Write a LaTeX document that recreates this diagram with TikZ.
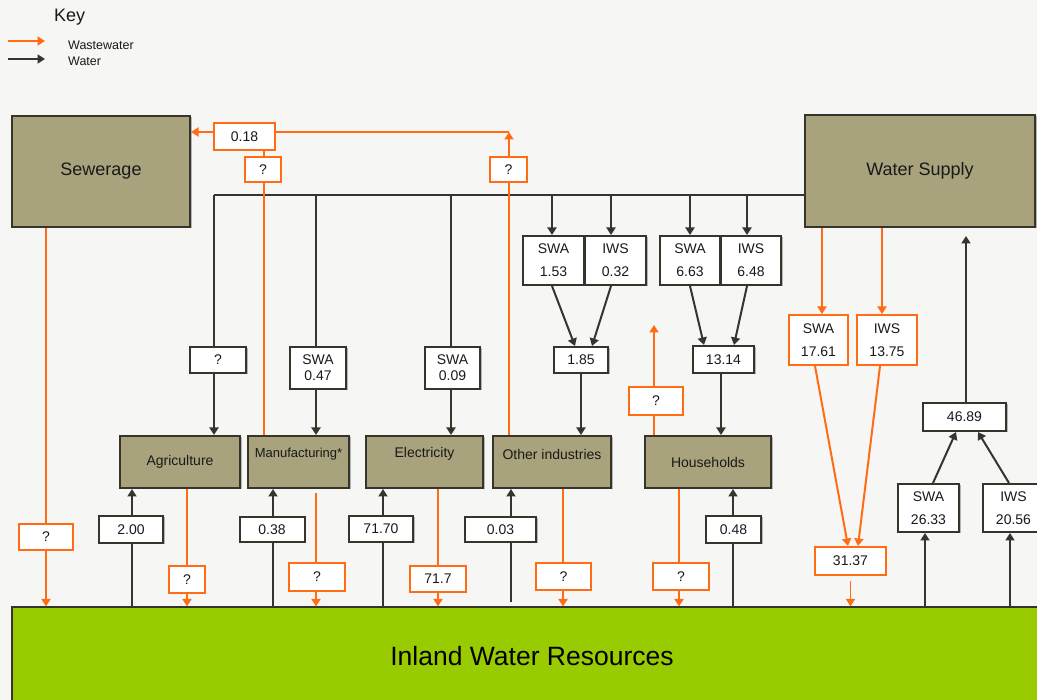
\documentclass[tikz,border=0pt]{standalone}
\usepackage{fontspec}
\setmainfont{Liberation Sans}
\usetikzlibrary{arrows.meta,calc,shadows}
\definecolor{secfill}{RGB}{168,163,124}
\definecolor{edgec}{RGB}{55,52,44}
\definecolor{wwc}{RGB}{255,108,20}
\definecolor{grn}{RGB}{153,204,0}
\definecolor{bgc}{RGB}{246,246,244}
\definecolor{txtc}{RGB}{25,25,25}
\tikzset{
  wline/.style={draw=edgec, line width=2pt},
  oline/.style={draw=wwc, line width=2pt},
  arr/.style={-{Triangle[width=9pt,length=7.5pt]}},
  shd/.style={drop shadow={shadow xshift=1.5pt, shadow yshift=-1.5pt, opacity=0.45, fill=black!60}},
  sect/.style={draw=edgec, fill=secfill, line width=2pt, inner sep=0pt, text=txtc, font=\fontsize{14}{16}\selectfont, shd},
  big/.style={sect, font=\fontsize{18}{20}\selectfont},
  sectxt/.style={inner sep=0pt, text=txtc, font=\fontsize{14}{16}\selectfont},
  wbox/.style={draw=edgec, fill=white, line width=2pt, inner sep=0pt, align=center, text=txtc, font=\fontsize{14}{16}\selectfont, shd},
  wbox2/.style={wbox, font=\fontsize{14}{23}\selectfont},
  obox/.style={draw=wwc, fill=white, line width=2pt, inner sep=0pt, align=center, text=txtc, font=\fontsize{14}{16}\selectfont},
  obox2/.style={obox, font=\fontsize{14}{23}\selectfont},
}
\begin{document}
\begin{tikzpicture}[x=1pt,y=-1pt]
\useasboundingbox (0,0) rectangle (1037,700);
\fill[bgc] (0,0) rectangle (1037,700);

% ---- line positions
\coordinate (yd) at (0,195);
\coordinate (yt) at (0,132);
\coordinate (xs) at (46,0);
\coordinate (xa1) at (214,0);
\coordinate (xa2) at (187,0);
\coordinate (xa3) at (132,0);
\coordinate (xm1) at (316,0);
\coordinate (xm3) at (264,0);
\coordinate (xm4) at (273,0);
\coordinate (xe1) at (451,0);
\coordinate (xe2) at (438,0);
\coordinate (xe3) at (383,0);
\coordinate (xo1) at (581,0);
\coordinate (xo2) at (563,0);
\coordinate (xo3) at (509,0);
\coordinate (xo4) at (511,0);
\coordinate (xh1) at (721,0);
\coordinate (xh2) at (679,0);
\coordinate (xh3) at (654,0);
\coordinate (xh4) at (733,0);
\coordinate (xd1) at (552,0);
\coordinate (xd2) at (611,0);
\coordinate (xd3) at (690,0);
\coordinate (xd4) at (747,0);
\coordinate (xr1) at (925,0);
\coordinate (xr2) at (1010,0);
\coordinate (xr3) at (966,0);
\coordinate (xw1) at (822,0);
\coordinate (xw2) at (882,0);
\coordinate (hup) at (654,325);
\coordinate (wsup) at (966,236);

% ---- key
\node[anchor=west, inner sep=0pt, text=txtc, font=\fontsize{18}{20}\selectfont] (key) at (54,17) {Key};
\coordinate (k1a) at (8,41);
\coordinate (k1b) at (45,41);
\coordinate (k2a) at (8,59);
\coordinate (k2b) at (45,59);
\draw[oline, line width=1.8pt, arr] (k1a) -- (k1b);
\draw[wline, line width=1.8pt, arr] (k2a) -- (k2b);
\node[anchor=west, inner sep=0pt, text=txtc, font=\fontsize{12.5}{15}\selectfont] (kww) at (68,45) {Wastewater};
\node[anchor=west, inner sep=0pt, text=txtc, font=\fontsize{12.5}{15}\selectfont] (kw) at (68,61) {Water};

% ---- main boxes
\node[big, minimum width=178pt, minimum height=111pt] (sew) at (101,171.5) {Sewerage};
\node[big, minimum width=230pt, minimum height=112pt] (ws) at (920,171) {Water Supply};
\node[sect, minimum width=120pt, minimum height=52pt] (agr) at (180,462) {Agriculture};
\node[sect, minimum width=101pt, minimum height=52pt] (man) at (298.5,462) {};
\node[sectxt, font=\fontsize{13}{16}\selectfont] (mant) at (298.5,454) {Manufacturing*};
\node[sect, minimum width=117pt, minimum height=52pt] (ele) at (424.5,462) {};
\node[sectxt] (elet) at (424.5,454) {Electricity};
\node[sect, minimum width=118pt, minimum height=52pt] (oth) at (552,462) {};
\node[sectxt] (otht) at (552,454) {Other industries};
\node[sect, minimum width=126pt, minimum height=52pt] (hh) at (708,462) {Households};
\node[draw=edgec, fill=grn, line width=1.2pt, minimum width=1040pt, minimum height=98pt, inner sep=0pt, text=black, font=\fontsize{26.5}{30}\selectfont] (inl) at (532,656) {Inland Water Resources};

% ---- water label boxes
\node[wbox, minimum width=56pt, minimum height=26pt] (qa) at (218,360) {?};
\node[wbox, minimum width=56pt, minimum height=42pt] (s047) at (318,368) {SWA\\0.47};
\node[wbox, minimum width=55pt, minimum height=42pt] (s009) at (452.5,368) {SWA\\0.09};
\node[wbox2, minimum width=61pt, minimum height=49pt] (s153) at (553.5,260.5) {SWA\\1.53};
\node[wbox2, minimum width=61pt, minimum height=49pt] (i032) at (615.5,260.5) {IWS\\0.32};
\node[wbox2, minimum width=60pt, minimum height=49pt] (s663) at (690,260.5) {SWA\\6.63};
\node[wbox2, minimum width=60pt, minimum height=49pt] (i648) at (751,260.5) {IWS\\6.48};
\node[wbox, minimum width=54pt, minimum height=26pt] (v185) at (581,360) {1.85};
\node[wbox, minimum width=61pt, minimum height=27pt] (v1314) at (723.5,359.5) {13.14};
\node[wbox, minimum width=64pt, minimum height=27pt] (v200) at (131,529.5) {2.00};
\node[wbox, minimum width=65pt, minimum height=25pt] (v038) at (272,529.5) {0.38};
\node[wbox, minimum width=64pt, minimum height=26pt] (v7170) at (381,529) {71.70};
\node[wbox, minimum width=71pt, minimum height=25pt] (v003) at (500.5,529.5) {0.03};
\node[wbox, minimum width=55pt, minimum height=27pt] (v048) at (733.5,529.5) {0.48};
\node[wbox, minimum width=83pt, minimum height=28pt] (v4689) at (964.5,417) {46.89};
\node[wbox2, minimum width=61pt, minimum height=48pt] (s2633) at (928.5,508) {SWA\\26.33};
\node[wbox2, minimum width=61pt, minimum height=48pt] (i2056) at (1013.5,508) {IWS\\20.56};

% ---- wastewater label boxes
\node[obox, minimum width=61pt, minimum height=27pt] (o018) at (244.5,136.5) {0.18};
\node[obox, minimum width=36pt, minimum height=25pt] (oq1) at (263,169.5) {?};
\node[obox, minimum width=37pt, minimum height=25pt] (oq2) at (508.5,169.5) {?};
\node[obox, minimum width=54pt, minimum height=26pt] (oqs) at (46,537) {?};
\node[obox, minimum width=36pt, minimum height=27pt] (oqa) at (187,579.5) {?};
\node[obox, minimum width=56pt, minimum height=28pt] (oqm) at (317,577) {?};
\node[obox, minimum width=56pt, minimum height=26pt] (o717) at (438,579) {71.7};
\node[obox, minimum width=55pt, minimum height=27pt] (oqo) at (563.5,576.5) {?};
\node[obox, minimum width=56pt, minimum height=27pt] (oqh) at (681,576.5) {?};
\node[obox, minimum width=54pt, minimum height=28pt] (oqh2) at (656,401) {?};
\node[obox2, minimum width=59pt, minimum height=50pt] (s1761) at (818.5,340) {SWA\\17.61};
\node[obox2, minimum width=60pt, minimum height=50pt] (i1375) at (887,340) {IWS\\13.75};
\node[obox, minimum width=71pt, minimum height=28pt] (v3137) at (850.5,561) {31.37};

% ---- water connectors
\draw[wline] (xa1|-yd) -- (ws.west|-yd);
\draw[wline] (xa1|-yd) -- (xa1|-qa.north);
\draw[wline,arr] (xa1|-qa.south) -- (xa1|-agr.north);
\draw[wline] (xm1|-yd) -- (xm1|-s047.north);
\draw[wline,arr] (xm1|-s047.south) -- (xm1|-man.north);
\draw[wline] (xe1|-yd) -- (xe1|-s009.north);
\draw[wline,arr] (xe1|-s009.south) -- (xe1|-ele.north);
\draw[wline,arr] (xd1|-yd) -- (xd1|-s153.north);
\draw[wline,arr] (xd2|-yd) -- (xd2|-i032.north);
\draw[wline,arr] (xd3|-yd) -- (xd3|-s663.north);
\draw[wline,arr] (xd4|-yd) -- (xd4|-i648.north);
\draw[wline,arr] (xd1|-s153.south) -- ($(v185.north)+(-6,0)$);
\draw[wline,arr] (xd2|-i032.south) -- ($(v185.north)+(11,0)$);
\draw[wline,arr] (xd3|-s663.south) -- ($(v1314.north)+(-19.5,0)$);
\draw[wline,arr] (xd4|-i648.south) -- ($(v1314.north)+(10.5,0)$);
\draw[wline,arr] (xo1|-v185.south) -- (xo1|-oth.north);
\draw[wline,arr] (xh1|-v1314.south) -- (xh1|-hh.north);

\draw[wline] (xa3|-inl.north) -- (xa3|-v200.south);
\draw[wline,arr] (xa3|-v200.north) -- (xa3|-agr.south);
\draw[wline] (xm4|-inl.north) -- (xm4|-v038.south);
\draw[wline,arr] (xm4|-v038.north) -- (xm4|-man.south);
\draw[wline] (xe3|-inl.north) -- (xe3|-v7170.south);
\draw[wline,arr] (xe3|-v7170.north) -- (xe3|-ele.south);
\draw[wline] ($(xo4|-inl.north)+(0,-4)$) -- (xo4|-v003.south);
\draw[wline,arr] (xo4|-v003.north) -- (xo4|-oth.south);
\draw[wline] (xh4|-inl.north) -- (xh4|-v048.south);
\draw[wline,arr] (xh4|-v048.north) -- (xh4|-hh.south);

\draw[wline,arr] (xr1|-inl.north) -- (xr1|-s2633.south);
\draw[wline,arr] (xr2|-inl.north) -- (xr2|-i2056.south);
\draw[wline,arr] ($(s2633.north)+(4.5,0)$) -- ($(v4689.south)+(-8.5,0)$);
\draw[wline,arr] ($(i2056.north)+(-4.5,0)$) -- ($(v4689.south)+(13.5,0)$);
\draw[wline,arr] (xr3|-v4689.north) -- (wsup);

% ---- wastewater connectors
\draw[oline] (xs|-sew.south) -- (xs|-oqs.north);
\draw[oline,arr] (xs|-oqs.south) -- (xs|-inl.north);
\draw[oline] (xa2|-agr.south) -- (xa2|-oqa.north);
\draw[oline,arr] (xa2|-oqa.south) -- (xa2|-inl.north);
\draw[oline] ($(xm1|-man.south)+(0,4)$) -- (xm1|-oqm.north);
\draw[oline,arr] (xm1|-oqm.south) -- (xm1|-inl.north);
\draw[oline] (xe2|-ele.south) -- (xe2|-o717.north);
\draw[oline,arr] (xe2|-o717.south) -- (xe2|-inl.north);
\draw[oline] (xo2|-oth.south) -- (xo2|-oqo.north);
\draw[oline,arr] (xo2|-oqo.south) -- (xo2|-inl.north);
\draw[oline] (xh2|-hh.south) -- (xh2|-oqh.north);
\draw[oline,arr] (xh2|-oqh.south) -- (xh2|-inl.north);
\draw[oline] (xh3|-hh.north) -- (xh3|-oqh2.south);
\draw[oline,arr] (xh3|-oqh2.north) -- (hup);

\draw[oline] (xm3|-man.north) -- (xm3|-oq1.south);
\draw[oline] (xm3|-oq1.north) -- (xm3|-o018.south);
\draw[oline,arr] (o018.west|-yt) -- (sew.east|-yt);
\draw[oline] (o018.east|-yt) -- (xo3|-yt);
\draw[oline] (xo3|-oth.north) -- (xo3|-oq2.south);
\draw[oline,arr] (xo3|-oq2.north) -- (xo3|-yt);

\draw[oline,arr] (xw1|-ws.south) -- (xw1|-s1761.north);
\draw[oline,arr] (xw2|-ws.south) -- (xw2|-i1375.north);
\draw[oline,arr] ($(s1761.south)+(-3.5,0)$) -- ($(v3137.north)+(-2.5,0)$);
\draw[oline,arr] ($(i1375.south)+(-7,0)$) -- ($(v3137.north)+(7.5,0)$);
\draw[oline,line width=1.4pt,arr,shorten <=5pt] (v3137.south) -- (v3137.south|-inl.north);
\end{tikzpicture}
\end{document}
